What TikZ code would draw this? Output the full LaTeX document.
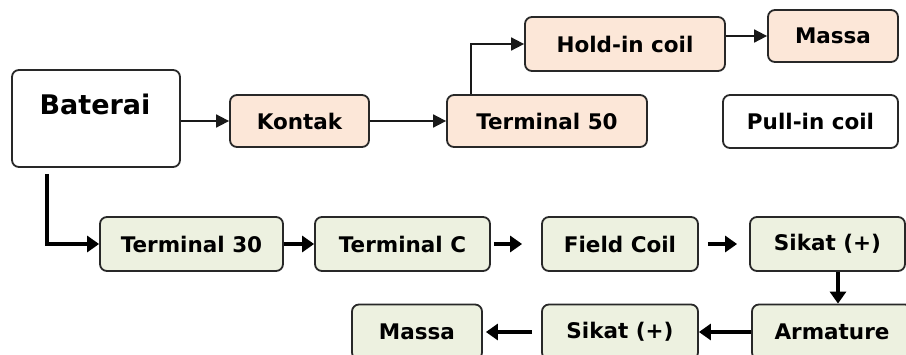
\documentclass[tikz,border=0pt]{standalone}
\usepackage{fontspec}
\setmainfont{DejaVu Sans}
\usetikzlibrary{arrows.meta,calc}
\definecolor{peach}{RGB}{252,231,216}
\definecolor{olive}{RGB}{237,241,224}
\definecolor{edge}{RGB}{40,40,40}
\begin{document}
\begin{tikzpicture}[x=1pt,y=-1pt,
  box/.style={draw=edge,line width=1.8pt,rounded corners=7pt,inner sep=0pt,
    font=\bfseries\fontsize{21.5}{25}\selectfont},
  pbox/.style={box,fill=peach},
  gbox/.style={box,fill=olive},
  thin arrow/.style={draw=black!90,line width=1.8pt,-{Triangle[length=13pt,width=13pt]}},
  thick arrow/.style={draw=black,line width=3.4pt,-{Triangle[length=12pt,width=16pt]}}]
\useasboundingbox (0,0) rectangle (906,354);
\clip (0,0) rectangle (906,354);
\fill[white] (0,0) rectangle (906,354);
% top part
\node[box,fill=white,minimum width=168pt,minimum height=97pt] (bat) at (96,118.5) {};
\node[font=\bfseries\fontsize{27}{30}\selectfont] (battxt) at (95,104) {Baterai};
\node[pbox,minimum width=139pt,minimum height=52pt] (kon) at (299.5,121) {Kontak};
\node[pbox,minimum width=200pt,minimum height=52pt] (t50) at (547,121) {Terminal 50};
\node[pbox,minimum width=200pt,minimum height=54pt] (hold) at (625,44) {Hold-in coil};
\node[pbox,minimum width=130pt,minimum height=52pt] (m1) at (833,36) {Massa};
\node[box,fill=white,minimum width=175pt,minimum height=53pt] (pull) at (810.5,121.5) {Pull-in coil};
% bottom part
\node[gbox,minimum width=183pt,minimum height=54pt] (t30) at (191.5,244) {Terminal 30};
\node[gbox,minimum width=175pt,minimum height=54pt] (tc) at (402.5,244) {Terminal C};
\node[gbox,minimum width=156pt,minimum height=54pt] (fc) at (620,244) {Field Coil};
\node[gbox,minimum width=155pt,minimum height=54pt] (s1) at (827.5,244) {Sikat (+)};
\node[gbox,minimum width=160pt,minimum height=55pt] (arm) at (832,332) {Armature};
\node[gbox,minimum width=156pt,minimum height=55pt] (s2) at (620,332) {Sikat (+)};
\node[gbox,minimum width=130pt,minimum height=55pt] (m2) at (417,332) {Massa};
% connectors
\draw[thin arrow] (bat.east |- kon.west) -- (kon.west);
\draw[thin arrow] (kon.east) -- (t50.west);
\coordinate (t50up) at ($(t50.north west)+(25,0)$);
\draw[thin arrow] (t50up) |- (hold.west);
\draw[thin arrow] (hold.east |- m1.west) -- (m1.west);
\coordinate (batdown) at ($(bat.south west)+(36,0)$);
\draw[thick arrow,shorten <=6pt] (batdown) |- (t30.west);
\draw[thick arrow] (t30.east) -- (tc.west);
\draw[thick arrow,shorten >=19pt,shorten <=3pt] (tc.east) -- (fc.west);
\draw[thick arrow,shorten >=12pt,shorten <=9pt] (fc.east) -- (s1.west);
\coordinate (s1down) at ($(s1.south)+(10.5,0)$);
\draw[thick arrow] (s1down) -- (s1down |- arm.north);
\draw[thick arrow] (arm.west) -- (s2.east);
\draw[thick arrow,shorten <=9pt,shorten >=3pt] (s2.west) -- (m2.east);
\end{tikzpicture}
\end{document}
